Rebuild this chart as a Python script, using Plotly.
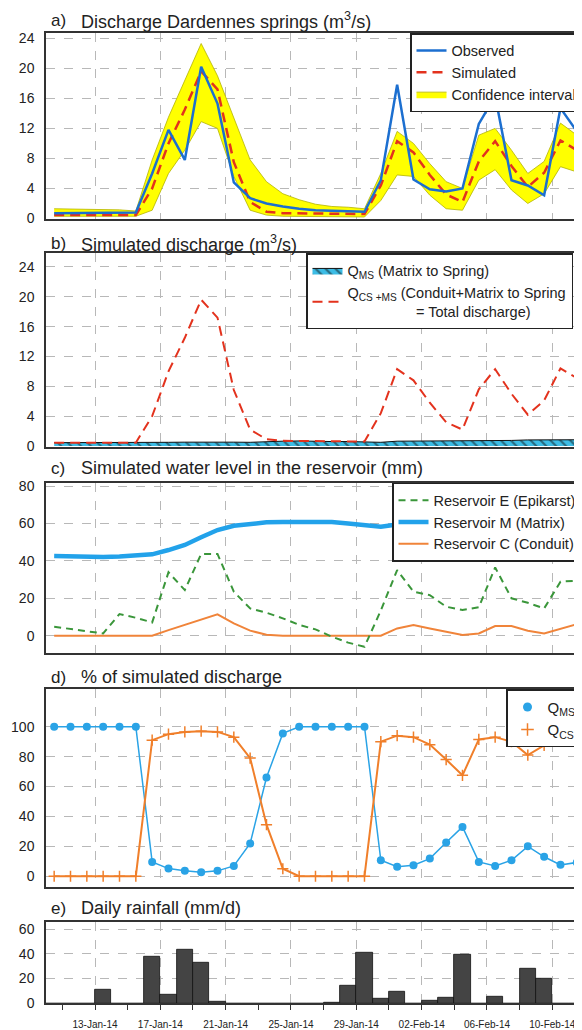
import pandas as pd
import plotly.graph_objects as go
from plotly.subplots import make_subplots

# daily values, 10-Jan-14 .. 11-Feb-14 (plotted at noon)
dates = pd.date_range("2014-01-10 12:00", "2014-02-11 12:00", freq="D")

observed = [0.7, 0.7, 0.7, 0.75, 0.8, 0.8, 6.0, 11.8, 7.8, 20.2, 15.3, 4.8, 2.7, 2.0, 1.6, 1.3,
            1.1, 1.0, 1.0, 0.9, 5.1, 17.8, 5.2, 3.9, 3.6, 4.0, 12.6, 16.3, 5.1, 4.4, 3.1, 14.7, 11.6]
simulated = [0.45, 0.45, 0.45, 0.45, 0.45, 0.45, 4.0, 10.0, 14.5, 19.6, 17.2, 7.5, 2.2, 0.9, 0.7, 0.7,
             0.6, 0.6, 0.6, 0.6, 4.4, 10.3, 8.8, 5.8, 3.2, 2.2, 7.6, 10.3, 7.0, 4.2, 6.1, 10.4, 9.1]
ci_upper = [1.3, 1.25, 1.2, 1.2, 1.15, 1.0, 7.8, 13.5, 18.5, 23.3, 19.0, 13.5, 7.8, 4.9, 3.3, 2.5,
            1.9, 1.6, 1.5, 1.3, 6.0, 11.6, 10.0, 7.3, 4.9, 4.0, 11.1, 12.0, 9.1, 6.0, 7.6, 12.7, 11.1]
ci_lower = [0.3, 0.3, 0.3, 0.3, 0.3, 0.3, 1.1, 6.0, 9.1, 12.9, 12.0, 5.6, 1.1, 0.45, 0.3, 0.3,
            0.2, 0.2, 0.2, 0.2, 2.4, 5.8, 5.6, 3.1, 1.3, 1.1, 5.1, 6.5, 3.8, 2.0, 3.3, 6.9, 6.2]

q_ms = [0.45, 0.45, 0.45, 0.45, 0.45, 0.45, 0.4, 0.5, 0.52, 0.53, 0.6, 0.52, 0.5, 0.6, 0.65, 0.68,
        0.6, 0.6, 0.6, 0.6, 0.5, 0.65, 0.65, 0.68, 0.72, 0.73, 0.73, 0.72, 0.75, 0.82, 0.8, 0.8, 0.84]
q_total = simulated

res_e = [4.8, 3.6, 2.3, 1.2, 11.6, 9.6, 7.1, 33.9, 24.4, 43.7, 43.7, 23.5, 14.6, 12.3, 9.3, 5.8,
         3.4, -0.5, -3.7, -5.9, 13.5, 35.1, 23.5, 21.7, 15.5, 13.7, 15.2, 36.5, 20.0, 17.6, 14.6, 28.9, 29.4]
res_m = [42.6, 42.4, 42.1, 42.1, 42.4, 42.8, 43.5, 45.8, 48.5, 52.6, 56.5, 58.8, 60.0, 60.6, 60.8, 61.0,
         61.0, 60.8, 60.0, 59.0, 58.3, 59.5, 60.0, 60.0, 60.0, 60.0, 60.0, 60.0, 60.0, 60.0, 60.0, 60.0, 60.0]
res_c = [0, 0, 0, 0, 0, 0, 0, 3.0, 5.7, 8.4, 11.4, 6.6, 2.7, 0.5, 0, 0,
         0, 0, 0, 0, 0, 3.9, 5.7, 3.9, 2.1, 0.4, 1.2, 5.2, 5.2, 2.7, 1.2, 3.9, 6.2]

pct_ms = [100, 100, 100, 100, 100, 100, 9.6, 5.1, 3.6, 2.7, 3.6, 6.9, 21.9, 66, 95.5, 100,
          100, 100, 100, 100, 10.7, 6.3, 7.4, 11.8, 22.5, 33, 9.6, 6.9, 10.7, 20, 13, 7.6, 9.2]
pct_cs = [0, 0, 0, 0, 0, 0, 91, 95, 96.5, 97, 96.5, 93, 79, 34.5, 5, 0,
          0, 0, 0, 0, 90, 94, 93, 88, 78, 67.5, 91.5, 93, 90, 81, 87.5, 93, 91.5]

rainfall = [0, 0, 0, 11.3, 0, 0, 37.5, 7.2, 43.4, 32.7, 1.3, 0, 0, 0, 0, 0, 0, 0.5,
            14.3, 41.1, 3.8, 9.2, 0, 1.9, 4.6, 39.2, 0, 5.1, 0, 27.6, 19.5, 0, 0]

# the page body has an 8px margin, so the figure is laid out in page pixels minus 8;
# the figure is a bit wider than the window so the right side is cut like the original
OFF = 8
W, H = 600, 1022
ML = 46 - OFF
FONT = "Liberation Sans, Arial, sans-serif"
BLUE_D = "#2aa3e6"
ORANGE = "#f07f2a"


def px_x(p):
    return (p - OFF - ML) / (W - ML)


def px_y(p):
    return 1 - (p - OFF) / H


fig = make_subplots(rows=5, cols=1)

# a) discharge
fig.add_trace(go.Scatter(x=dates, y=ci_upper, mode="lines", line=dict(color="#b3b300", width=0.8),
                         showlegend=False, hoverinfo="skip"), row=1, col=1)
fig.add_trace(go.Scatter(x=dates, y=ci_lower, mode="lines", fill="tonexty", fillcolor="#ffff00",
                         line=dict(color="#b3b300", width=0.8), name="Confidence interval",
                         legend="legend", legendrank=3), row=1, col=1)
fig.add_trace(go.Scatter(x=dates, y=simulated, mode="lines", name="Simulated",
                         line=dict(color="#e3321d", width=2.5, dash="10px,6px"),
                         legend="legend", legendrank=2), row=1, col=1)
fig.add_trace(go.Scatter(x=dates, y=observed, mode="lines", name="Observed",
                         line=dict(color="#1c6fd0", width=2.5),
                         legend="legend", legendrank=1), row=1, col=1)

# b) simulated discharge
fig.add_trace(go.Scatter(x=dates, y=q_ms, mode="lines", fill="tozeroy",
                         fillpattern=dict(shape="\\", fgcolor="#111111", bgcolor="#3cbde6",
                                          size=7, solidity=0.3),
                         line=dict(color="#111111", width=1),
                         name="Q<sub>MS</sub> (Matrix to Spring)", legend="legend2", legendrank=1),
              row=2, col=1)
fig.add_trace(go.Scatter(x=dates, y=q_total, mode="lines",
                         line=dict(color="#e3321d", width=2, dash="10px,6px"),
                         name="Q<sub>CS +MS</sub> (Conduit+Matrix to Spring<br>"
                              + "&nbsp;" * 17 + "= Total discharge)",
                         legend="legend2", legendrank=2), row=2, col=1)

# c) water level
fig.add_trace(go.Scatter(x=dates, y=res_m, mode="lines", name="Reservoir M (Matrix)",
                         line=dict(color="#22a2ea", width=4.5), legend="legend3", legendrank=2),
              row=3, col=1)
fig.add_trace(go.Scatter(x=dates, y=res_c, mode="lines", name="Reservoir C (Conduit)",
                         line=dict(color="#f0843a", width=2), legend="legend3", legendrank=3),
              row=3, col=1)
fig.add_trace(go.Scatter(x=dates, y=res_e, mode="lines", name="Reservoir E (Epikarst)",
                         line=dict(color="#3a963a", width=2, dash="7px,5px"),
                         legend="legend3", legendrank=1), row=3, col=1)

# d) % of simulated discharge
fig.add_trace(go.Scatter(x=dates, y=pct_ms, mode="lines+markers", showlegend=False,
                         line=dict(color=BLUE_D, width=1.5),
                         marker=dict(symbol="circle", size=8, color=BLUE_D)), row=4, col=1)
fig.add_trace(go.Scatter(x=dates, y=pct_cs, mode="lines+markers", showlegend=False,
                         line=dict(color=ORANGE, width=2),
                         marker=dict(symbol="cross-thin", size=8, color=ORANGE,
                                     line=dict(color=ORANGE, width=1.5))), row=4, col=1)
# marker-only entries for the legend
fig.add_trace(go.Scatter(x=[None], y=[None], mode="markers", name="Q<sub>MS</sub>",
                         marker=dict(symbol="circle", size=9, color=BLUE_D),
                         legend="legend4", legendrank=1), row=4, col=1)
fig.add_trace(go.Scatter(x=[None], y=[None], mode="markers", name="Q<sub>CS</sub>",
                         marker=dict(symbol="cross-thin", size=9, color=ORANGE,
                                     line=dict(color=ORANGE, width=1.5)),
                         legend="legend4", legendrank=2), row=4, col=1)

# e) rainfall
fig.add_trace(go.Bar(x=dates, y=rainfall, width=86400000, showlegend=False,
                     marker=dict(color="#444444", line=dict(color="#111111", width=0.8))),
              row=5, col=1)

panels = [  # top px, bottom px (page), y range, y ticks
    (33, 218.5, [0, 24.7], [0, 4, 8, 12, 16, 20, 24]),
    (252.7, 447, [-0.13, 25.9], [0, 4, 8, 12, 16, 20, 24]),
    (482.7, 653.3, [-9.4, 81.8], [0, 20, 40, 60, 80]),
    (689.3, 886.7, [-7, 125], [0, 20, 40, 60, 80, 100]),
    (921.7, 1003.3, [0, 66], [0, 20, 40, 60]),
]
# 16.33 px per day, left edge on 10-Jan 00:00
x_range = ["2014-01-10 00:00", "2014-02-13 09:50"]
grid = dict(showgrid=True, gridcolor="#b8b8b8", griddash="dash", gridwidth=1)

for i, (top, bot, yr, yt) in enumerate(panels, start=1):
    fig.update_yaxes(domain=[px_y(bot), px_y(top)], range=yr, tickvals=yt, ticks="",
                     showline=True, linecolor="#333333", linewidth=1.5, mirror=False,
                     zeroline=False, ticklabelstandoff=7,
                     tickfont=dict(size=14, color="#222222", family=FONT), **grid, row=i, col=1)
    fig.update_xaxes(type="date", range=x_range, tick0="2014-01-13", dtick=4 * 86400000,
                     showline=True, linecolor="#333333", linewidth=1.5, mirror=True,
                     zeroline=False, showticklabels=(i == 5), ticks="outside" if i == 5 else "",
                     ticklen=5, tickcolor="#333333", tickformat="%d-%b-%y",
                     ticklabelstandoff=6,
                     tickfont=dict(size=10, color="#222222", family=FONT), **grid, row=i, col=1)

fig.update_xaxes(minor=dict(tick0="2014-01-11", dtick=2 * 86400000, ticks="outside", ticklen=5,
                            tickcolor="#333333", showgrid=False), row=5, col=1)

titles = [
    ("a)", "Discharge Dardennes springs (m<sup>3</sup>/s)", 20),
    ("b)", "Simulated discharge (m<sup>3</sup>/s)", 243),
    ("c)", "Simulated water level in the reservoir (mm)", 468),
    ("d)", "% of simulated discharge", 677),
    ("e)", "Daily rainfall (mm/d)", 908),
]
for lab, txt, yc in titles:
    fig.add_annotation(text=lab, x=px_x(49), y=px_y(yc), xref="paper", yref="paper",
                       xanchor="left", yanchor="middle", showarrow=False,
                       font=dict(size=17, color="#222222", family=FONT))
    fig.add_annotation(text=txt, x=px_x(79), y=px_y(yc), xref="paper", yref="paper",
                       xanchor="left", yanchor="middle", showarrow=False,
                       font=dict(size=18, color="#222222", family=FONT))

leg = dict(bgcolor="white", bordercolor="#222222", borderwidth=1.5, xanchor="left",
           yanchor="top", tracegroupgap=0, itemwidth=30, traceorder="normal")
fig.update_layout(
    width=W, height=H,
    margin=dict(l=ML, r=0, t=0, b=0, autoexpand=False),
    paper_bgcolor="white", plot_bgcolor="white",
    font=dict(family=FONT, color="#222222"),
    barmode="overlay", bargap=0,
    legend=dict(x=px_x(410), y=px_y(33), font=dict(size=14.5, family=FONT), **leg),
    legend2=dict(x=px_x(306), y=px_y(253), font=dict(size=14.5, family=FONT), **leg),
    legend3=dict(x=px_x(392), y=px_y(482.7), font=dict(size=14.5, family=FONT), **leg),
    legend4=dict(x=px_x(506), y=px_y(689.3), font=dict(size=15, family=FONT), **leg),
)

fig.write_html("out.html")
